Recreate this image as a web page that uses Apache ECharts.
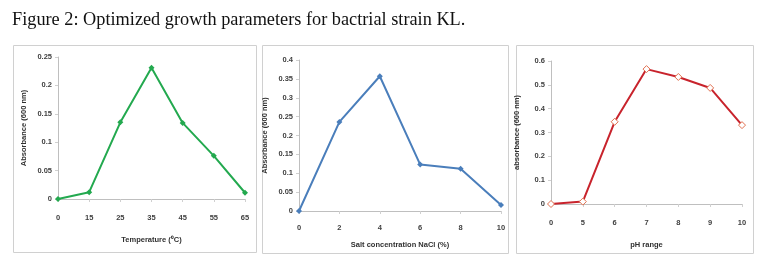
<!DOCTYPE html>
<html><head><meta charset="utf-8">
<script src="https://cdn.jsdelivr.net/npm/echarts@6/dist/echarts.min.js"></script>
<style>html,body{margin:0;padding:0;background:#fff}#c{width:768px;height:271px}</style>
</head><body><div id="c"></div>
<script>
var tempCats = ['0','15','25','35','45','55','65'];
var tempVals = [0, 0.012, 0.135, 0.231, 0.134, 0.076, 0.011];
var saltCats = ['0','2','4','6','8','10'];
var saltVals = [0, 0.236, 0.357, 0.123, 0.112, 0.016];
var phCats = ['0','5','6','7','8','9','10'];
var phVals = [0, 0.01, 0.345, 0.566, 0.533, 0.487, 0.331];
var titleText = 'Figure 2: Optimized growth parameters for bactrial strain KL.';

var chart = echarts.init(document.getElementById('c'));
var lab = {fontFamily:'Liberation Sans', fontSize:7.5, fontWeight:'bold', color:'#404040'};
function xa(gi, cats, name, gap, margin){
  return {gridIndex:gi, type:'category', data:cats, boundaryGap:false,
    name:name, nameLocation:'middle', nameGap:gap,
    nameTextStyle:{fontFamily:'Liberation Sans', fontSize:7.5, fontWeight:'bold', color:'#303030'},
    axisLine:{lineStyle:{color:'#bfbfbf'}}, axisTick:{show:true, lineStyle:{color:'#d0d0d0'}, length:3},
    axisLabel:Object.assign({margin:margin}, lab), splitLine:{show:false}};
}
function ya(gi, max, interval, name){
  return {gridIndex:gi, type:'value', min:0, max:max, interval:interval,
    name:name, nameLocation:'middle', nameGap:30, nameRotate:90,
    nameTextStyle:{fontFamily:'Liberation Sans', fontSize:7.5, fontWeight:'bold', color:'#303030'},
    axisLine:{show:true, lineStyle:{color:'#bfbfbf'}}, axisTick:{show:true, length:3, lineStyle:{color:'#d0d0d0'}},
    axisLabel:Object.assign({margin:6}, lab), splitLine:{show:false}};
}
chart.setOption({
  animation:false,
  title:{text:titleText, left:7, top:6, textStyle:{fontFamily:'Liberation Serif', fontSize:18.3, fontWeight:'normal', color:'#111'}},
  graphic:[
    {type:'rect', shape:{x:13.5,y:45.5,width:243,height:207}, style:{fill:'none', stroke:'#d0d0d0', lineWidth:1}},
    {type:'rect', shape:{x:262.5,y:45.5,width:246,height:208}, style:{fill:'none', stroke:'#d0d0d0', lineWidth:1}},
    {type:'rect', shape:{x:516.5,y:45.5,width:237,height:208}, style:{fill:'none', stroke:'#d0d0d0', lineWidth:1}}
  ],
  grid:[
    {left:58, top:57, width:187, height:142},
    {left:299, top:60, width:202, height:151},
    {left:551, top:61, width:191, height:143}
  ],
  xAxis:[
    xa(0, tempCats, 'Temperature (⁰C)', 37, 15),
    xa(1, saltCats, 'Salt concentration NaCl (%)', 30, 13),
    xa(2, phCats, 'pH range', 37, 15)
  ],
  yAxis:[
    ya(0, 0.25, 0.05, 'Absorbance (600 nm)'),
    ya(1, 0.4, 0.05, 'Absorbance (600 nm)'),
    ya(2, 0.6, 0.1, 'absorbance (600 nm)')
  ],
  series:[
    {type:'line', xAxisIndex:0, yAxisIndex:0, data:tempVals, symbol:'diamond', symbolSize:6,
     lineStyle:{color:'#23a94f', width:2}, itemStyle:{color:'#23a94f'}},
    {type:'line', xAxisIndex:1, yAxisIndex:1, data:saltVals, symbol:'diamond', symbolSize:6,
     lineStyle:{color:'#4a7ebb', width:2}, itemStyle:{color:'#4a7ebb'}},
    {type:'line', xAxisIndex:2, yAxisIndex:2, data:phVals, symbol:'diamond', symbolSize:7,
     lineStyle:{color:'#c8232c', width:2}, itemStyle:{color:'#fff', borderColor:'#e07050', borderWidth:1}}
  ]
});
</script></body></html>
